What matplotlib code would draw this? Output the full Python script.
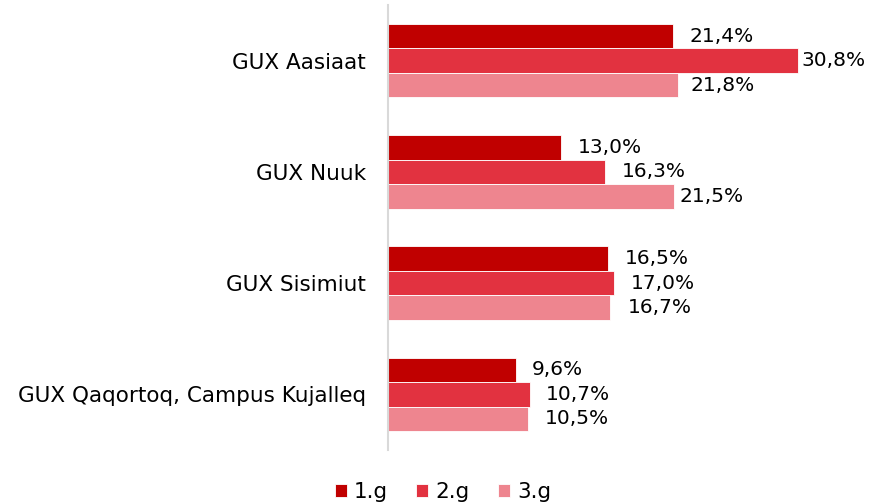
import matplotlib
matplotlib.use("Agg")
import matplotlib.pyplot as plt
import numpy as np

categories = ["GUX Aasiaat", "GUX Nuuk", "GUX Sisimiut", "GUX Qaqortoq, Campus Kujalleq"]
series_names = ["1.g", "2.g", "3.g"]
g1 = [21.4, 13.0, 16.5, 9.6]
g2 = [30.8, 16.3, 17.0, 10.7]
g3 = [21.8, 21.5, 16.7, 10.5]
colors = ["#C00000", "#E23240", "#EE858F"]
# label offsets in pixels from bar end (per series, per category)
label_offsets = [[17, 17, 17, 16], [3, 17, 16, 15], [12, 5, 17, 17]]

plt.rcParams['font.family'] = ['DejaVu Sans']
fig = plt.figure(figsize=(8.86, 5.04), dpi=100)
ax = fig.add_axes([388/886, 1 - 450/504, (854-388)/886, 445/504])

px = 72 / 100.0
y = np.arange(len(categories))
h = 0.22
for k, (vals, name, c) in enumerate(zip([g1, g2, g3], series_names, colors)):
    pos = y + (k - 1) * h
    ax.barh(pos, vals, height=h, color=c, label=name, edgecolor='white', linewidth=0.6)
    for j, (p, v) in enumerate(zip(pos, vals)):
        ax.annotate(f"{v:.1f}%".replace(".", ","), (v, p),
                    xytext=(label_offsets[k][j] * px, 0),
                    textcoords="offset points", va="center", ha="left",
                    fontsize=14.5, color="#000000")

ax.set_xlim(0, 35)
ax.set_ylim(3.5, -0.5)
ax.set_yticks(y)
ax.set_yticklabels(categories, fontsize=15.5)
ax.tick_params(axis='y', length=0, pad=16)
ax.set_xticks([])
for s in ["top", "right", "bottom"]:
    ax.spines[s].set_visible(False)
ax.spines["left"].set_color("#D9D9D9")
ax.spines["left"].set_linewidth(1.5)

leg = fig.legend(loc="lower center", bbox_to_anchor=(0.5, -0.035), ncol=3, frameon=False,
                 fontsize=15.5, handlelength=0.55, handleheight=0.55, handletextpad=0.35,
                 columnspacing=1.3)
fig.savefig("out.png", dpi=100)
